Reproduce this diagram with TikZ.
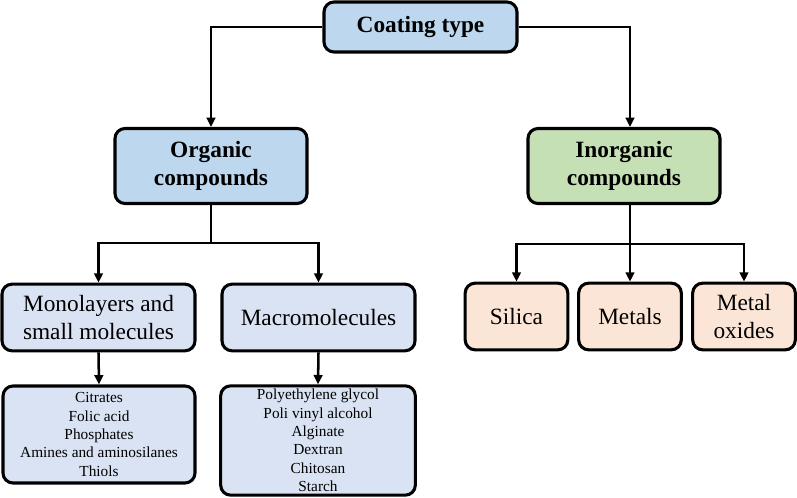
\documentclass[tikz,border=0pt]{standalone}
\usepackage{fontspec}
\setmainfont{Liberation Serif}
\usetikzlibrary{arrows.meta}

\definecolor{headblue}{RGB}{189,215,238}
\definecolor{headgreen}{RGB}{197,224,180}
\definecolor{lightblue}{RGB}{218,227,243}
\definecolor{peach}{RGB}{251,229,214}

\tikzset{every picture/.style={line width=0.75pt}}
\tikzset{
  box/.style={draw=black, line width=2.3pt, rounded corners=7.5pt, align=center, inner sep=0pt,
    font=\fontsize{17.5}{21}\selectfont},
  headbox/.style={box, font=\fontsize{17.5}{21}\selectfont\bfseries},
  listbox/.style={box, fill=lightblue, font=\fontsize{11.5}{13.8}\selectfont},
  conn/.style={line width=1.9pt, -{Triangle[length=7pt,width=6.5pt]}},
  link/.style={line width=1.9pt}
}

\begin{document}
\begin{tikzpicture}[x=0.75pt,y=0.75pt,yscale=-1,xscale=1]
\useasboundingbox (0,0) rectangle (797,498);

% Head Node
\node [headbox, fill=headblue, minimum width=144.75pt, minimum height=37.5pt] (coat) at (420.5,27) {Coating type};

% Second level
\node [headbox, fill=headblue, minimum width=144pt, minimum height=56.25pt] (org) at (211,166) {Organic\\compounds};
\node [headbox, fill=headgreen, minimum width=144pt, minimum height=56.25pt] (inorg) at (624,166) {Inorganic\\compounds};

% Third level
\node [box, fill=lightblue, minimum width=144.75pt, minimum height=50pt] (mono) at (98.5,317.5) {Monolayers and\\small molecules};
\node [box, fill=lightblue, minimum width=144.75pt, minimum height=50pt] (macro) at (318.5,317.5) {Macromolecules};
\node [box, fill=peach, minimum width=77pt, minimum height=50pt] (silica) at (516.5,316.5) {Silica};
\node [box, fill=peach, minimum width=77pt, minimum height=50pt] (metals) at (630,316.5) {Metals};
\node [box, fill=peach, minimum width=77pt, minimum height=50pt] (oxides) at (744,316.5) {Metal\\oxides};

% Lists
\node [listbox, minimum width=144pt, minimum height=72.75pt] (smalllist) at (99,434.5) {Citrates\\Folic acid\\Phosphates\\Amines and aminosilanes\\Thiols};
\node [listbox, minimum width=146pt, minimum height=82pt] (macrolist) at (318,440.5) {Polyethylene glycol\\Poli vinyl alcohol\\Alginate\\Dextran\\Chitosan\\Starch};

% Connectors
\coordinate (orgsplit) at (211,243);
\coordinate (inorgsplit) at (630,244);

\draw [conn] (coat.west) -| (org.north);
\draw [conn] (coat.east) -| (inorg.north -| inorgsplit);

\draw [link] (org.south) -- (orgsplit);
\draw [conn] (orgsplit) -| (mono.north);
\draw [conn] (orgsplit) -| (macro.north);

\draw [link] (inorg.south -| inorgsplit) -- (inorgsplit);
\draw [conn] (inorgsplit) -| (silica.north);
\draw [conn] (inorgsplit) -- (metals.north);
\draw [conn] (inorgsplit) -| (oxides.north);

\draw [conn] (mono.south) -- (smalllist.north);
\draw [conn] (macro.south) -- (macrolist.north);

\end{tikzpicture}
\end{document}
